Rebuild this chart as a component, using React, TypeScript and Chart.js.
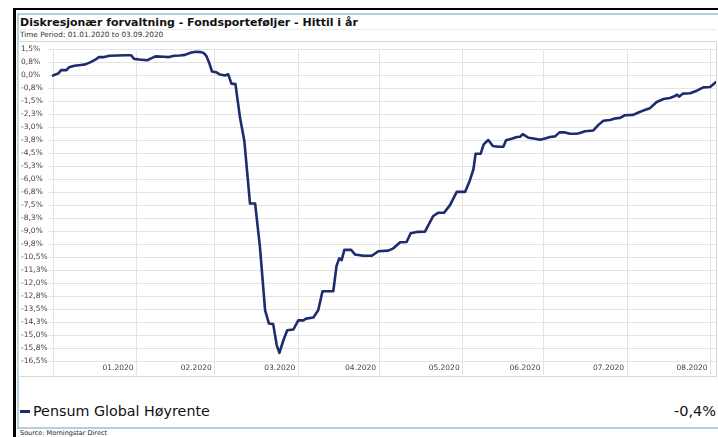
import React, { useEffect, useRef } from "react";
import { Chart, registerables } from "chart.js";

Chart.register(...registerables);

// Days since 01.01.2020
const days: number[] = [0,2,3,5,6,8,11,12,14,16,17,19,21,24,27,29,30,32,35,36,38,41,43,45,47,49,51,53,55,56,57,58,59,60.5,62,63.8,65,66.2,67.7,69.4,71,73.1,75,76.8,78.7,80.1,81.7,83,84,85.5,86.9,89.2,91,92.9,93.9,96.6,98.4,100,104,105.2,106.2,107.1,108.1,110.6,112.1,115.1,118.3,120.7,124.4,126.3,128.8,131.2,132.7,135,138,141.1,143,145.1,147.3,149.8,152.9,154.7,156,156.8,158.7,159.8,161.5,163.2,165.2,167.1,168.1,170.2,172.1,173.3,174.3,176.4,178.9,180.7,182.6,184.4,186.3,187.9,190,191.8,194.3,195.5,197.4,200.5,202.3,204.2,206.7,208.5,210.4,212.2,215.3,217.2,219,221.5,224,226.5,228.9,230.8,231.4,232.4,233.7,236.4,238.9,241.3,243.8,246];

// Pensum Global Høyrente, cumulative return (%)
const values: number[] = [0.00,0.12,0.31,0.31,0.48,0.56,0.62,0.64,0.77,0.94,1.06,1.06,1.14,1.15,1.17,1.17,0.96,0.92,0.88,0.96,1.10,1.08,1.06,1.14,1.15,1.19,1.31,1.37,1.35,1.29,1.10,0.71,0.23,0.19,0.05,0.00,0.07,-0.47,-0.50,-2.45,-3.79,-7.40,-7.40,-9.93,-13.57,-14.33,-14.37,-15.58,-16.03,-15.30,-14.72,-14.68,-14.15,-14.15,-14.05,-13.99,-13.57,-12.47,-12.47,-11.0,-10.57,-10.67,-10.08,-10.07,-10.35,-10.42,-10.42,-10.16,-10.12,-9.99,-9.64,-9.62,-9.12,-9.04,-9.03,-8.12,-7.93,-7.93,-7.49,-6.73,-6.73,-6.05,-5.42,-4.52,-4.52,-3.98,-3.73,-4.08,-4.12,-4.12,-3.75,-3.66,-3.56,-3.54,-3.39,-3.60,-3.66,-3.72,-3.64,-3.56,-3.52,-3.29,-3.29,-3.37,-3.37,-3.33,-3.22,-3.18,-2.87,-2.62,-2.57,-2.49,-2.45,-2.30,-2.28,-2.14,-2.03,-1.89,-1.53,-1.36,-1.30,-1.19,-1.11,-1.22,-1.05,-1.03,-0.88,-0.69,-0.67,-0.38];

// Month boundaries (day index) and their labels
const monthTicks: number[] = [0, 31, 60, 91, 121, 152, 182, 213, 244];
const monthLabels: string[] = ["", "01.2020", "02.2020", "03.2020", "04.2020", "05.2020", "06.2020", "07.2020", "08.2020"];

const yTicks: number[] = [1.5,0.75,0,-0.75,-1.5,-2.25,-3,-3.75,-4.5,-5.25,-6,-6.75,-7.5,-8.25,-9,-9.75,-10.5,-11.25,-12,-12.75,-13.5,-14.25,-15,-15.75,-16.5];
const yTickLabels: string[] = ["1,5%","0,8%","0,0%","-0,8%","-1,5%","-2,3%","-3,0%","-3,8%","-4,5%","-5,3%","-6,0%","-6,8%","-7,5%","-8,3%","-9,0%","-9,8%","-10,5%","-11,3%","-12,0%","-12,8%","-13,5%","-14,3%","-15,0%","-15,8%","-16,5%"];

const seriesName = "Pensum Global Høyrente";
const seriesResult = "-0,4%";
const titleText = "Diskresjonær forvaltning - Fondsporteføljer - Hittil i år";
const subtitleText = "Time Period: 01.01.2020 to 03.09.2020";
const sourceText = "Source: Morningstar Direct";

const LINE = "#1e2b6c";
const GRID = "#e3e3e3";

export default function App() {
  const ref = useRef<HTMLCanvasElement | null>(null);

  useEffect(() => {
    if (!ref.current) return;
    const chart = new Chart(ref.current, {
      type: "line",
      data: {
        datasets: [
          {
            label: seriesName,
            data: days.map((d, i) => ({ x: d, y: values[i] })),
            borderColor: LINE,
            backgroundColor: LINE,
            borderWidth: 2.6,
            pointRadius: 0,
            tension: 0,
            borderJoinStyle: "round",
            borderCapStyle: "round",
            clip: false as any,
          },
        ],
      },
      options: {
        responsive: false,
        animation: false,
        layout: { padding: { top: 6, left: 2, right: 0, bottom: 0 } },
        plugins: { legend: { display: false }, tooltip: { enabled: false } },
        scales: {
          x: {
            type: "linear",
            min: 0,
            max: 246,
            afterBuildTicks: (s: any) => {
              s.ticks = monthTicks.map((v) => ({ value: v }));
            },
            afterFit: (s: any) => {
              s.height = 15;
            },
            grid: { color: GRID, lineWidth: 1, tickLength: 14, drawTicks: true },
            border: { color: GRID },
            ticks: {
              autoSkip: false,
              maxRotation: 0,
              minRotation: 0,
              align: "end",
              labelOffset: -3,
              padding: -11,
              color: "#444",
              font: { family: "DejaVu Sans", size: 7.5 },
              callback: (_v: any, i: number) => monthLabels[i],
            },
          },
          y: {
            min: -16.5,
            max: 1.5,
            afterBuildTicks: (s: any) => {
              s.ticks = yTicks.map((v) => ({ value: v }));
            },
            afterFit: (s: any) => {
              s.width = 32;
            },
            grid: { color: GRID, lineWidth: 1, tickLength: 5 },
            border: { color: GRID },
            ticks: {
              autoSkip: false,
              crossAlign: "far",
              color: "#444",
              font: { family: "DejaVu Sans", size: 7.5 },
              callback: (_v: any, i: number) => yTickLabels[i],
            },
          },
        },
      },
    } as any);
    return () => chart.destroy();
  }, []);

  return (
    <div style={{ position: "fixed", left: 0, top: 0, width: 718, height: 437, background: "#fff", overflow: "hidden", fontFamily: "DejaVu Sans" }}>
      {/* outer black frame */}
      <div style={{ position: "absolute", left: 13, top: 8, width: 720, height: 440, borderLeft: "3px solid #000", borderTop: "2px solid #000" }} />
      {/* inner light-blue panel */}
      <div style={{ position: "absolute", left: 17, top: 13, width: 710, height: 412, borderLeft: "2px solid #b6cfdc", borderTop: "2px solid #b6cfdc", borderBottom: "2px solid #b6cfdc" }} />
      <div style={{ position: "absolute", left: 20, top: 16, lineHeight: "13px", fontSize: 11, fontWeight: "bold", color: "#111", whiteSpace: "nowrap" }}>{titleText}</div>
      <div style={{ position: "absolute", left: 19, top: 29, width: 697, height: 1, background: "#ececec" }} />
      <div style={{ position: "absolute", left: 20, top: 31, lineHeight: "8px", fontSize: 7.3, color: "#333", whiteSpace: "nowrap" }}>{subtitleText}</div>
      {/* chart box */}
      <div style={{ position: "absolute", left: 19, top: 42, width: 697, height: 334, outline: "1px solid #d8d8d8" }}>
        <canvas ref={ref} width={697} height={334} style={{ display: "block", width: 697, height: 334 }} />
      </div>
      {/* legend */}
      <div style={{ position: "absolute", left: 20, top: 410, width: 10, height: 2.5, background: LINE }} />
      <div style={{ position: "absolute", left: 33, top: 403, lineHeight: "16px", fontSize: 14.3, color: "#111", whiteSpace: "nowrap" }}>{seriesName}</div>
      <div style={{ position: "absolute", right: 2, top: 403, lineHeight: "16px", fontSize: 14.5, color: "#111", whiteSpace: "nowrap" }}>{seriesResult}</div>
      <div style={{ position: "absolute", left: 20, top: 429, lineHeight: "8px", fontSize: 6.5, color: "#222", whiteSpace: "nowrap" }}>{sourceText}</div>
    </div>
  );
}
